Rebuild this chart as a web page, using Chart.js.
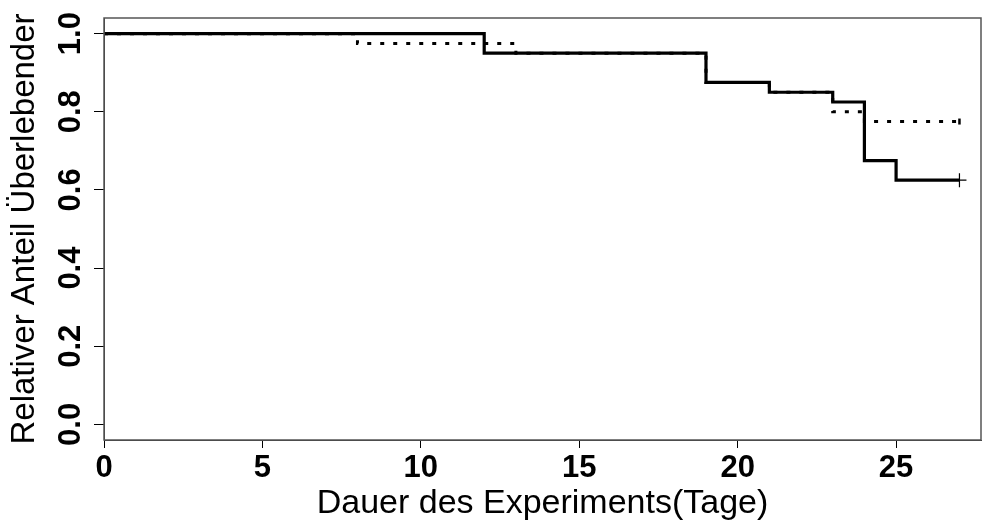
<!DOCTYPE html>
<html>
<head>
<meta charset="utf-8">
<script src="https://cdn.jsdelivr.net/npm/chart.js@4"></script>
<style>
  body { margin: 0; background: #fff; }
  canvas { display: block; }
</style>
</head>
<body>
<canvas id="survChart" width="983" height="528"></canvas>
<script>
// Kaplan-Meier Kurven (zwei Gruppen)
const timesA = [0, 12, 19, 21, 23, 24, 25, 27];
const survA = [1, 0.95, 0.875, 0.85, 0.825, 0.675, 0.625, 0.625];
const timesB = [0, 8, 13, 19, 21, 23, 24, 27];
const survB = [1, 0.975, 0.95, 0.875, 0.85, 0.8, 0.775, 0.775];
const censorA = [27];
const censorAsurv = [0.625];
const censorB = [27];
const censorBsurv = [0.775];

const xTicks = [0, 5, 10, 15, 20, 25];
const yTicks = [0, 0.2, 0.4, 0.6, 0.8, 1.0];
const yTickLabels = ['0.0', '0.2', '0.4', '0.6', '0.8', '1.0'];

const font = "'Liberation Sans', Arial, sans-serif";

function pts(xs, ys) {
  return xs.map((x, i) => ({ x: x, y: ys[i] }));
}

// Rahmen + y-Achsenbeschriftung (gedreht wie in R)
const boxPlugin = {
  id: 'boxPlugin',
  afterDraw(chart) {
    const { ctx, chartArea: a, scales } = chart;
    ctx.save();
    ctx.strokeStyle = '#555';
    ctx.lineWidth = 1.5;
    ctx.strokeRect(a.left, a.top, a.right - a.left, a.bottom - a.top);

    ctx.fillStyle = '#000';
    ctx.font = 'bold 31px ' + font;
    ctx.textAlign = 'center';
    ctx.textBaseline = 'middle';
    yTicks.forEach((v, i) => {
      const y = scales.y.getPixelForValue(v);
      ctx.save();
      ctx.translate(71, y);
      ctx.rotate(-Math.PI / 2);
      ctx.fillText(yTickLabels[i], 0, 0);
      ctx.restore();
    });
    ctx.restore();
  }
};

new Chart(document.getElementById('survChart'), {
  type: 'line',
  data: {
    datasets: [{
      label: 'A',
      data: pts(timesA, survA),
      borderColor: '#000',
      borderWidth: 3.2,
      stepped: true,
      pointRadius: 0,
      order: 0
    }, {
      label: 'B',
      data: pts(timesB, survB),
      borderColor: '#000',
      borderWidth: 3,
      borderDash: [4, 9],
      stepped: true,
      pointRadius: 0,
      order: 1
    }, {
      label: 'A zensiert',
      data: pts(censorA, censorAsurv),
      showLine: false,
      pointStyle: 'cross',
      pointRadius: 7,
      borderColor: '#000',
      borderWidth: 1.2,
      order: 0
    }, {
      label: 'B zensiert',
      data: pts(censorB, censorBsurv),
      showLine: false,
      pointStyle: 'line',
      rotation: 90,
      pointRadius: 3,
      borderColor: '#000',
      borderWidth: 2.5,
      order: 0
    }]
  },
  options: {
    responsive: false,
    animation: false,
    layout: { autoPadding: false, padding: { top: 18, right: 2, left: 0, bottom: 0 } },
    plugins: {
      legend: { display: false },
      tooltip: { enabled: false }
    },
    scales: {
      x: {
        type: 'linear',
        min: 0,
        max: 27.68,
        afterBuildTicks: s => { s.ticks = xTicks.map(v => ({ value: v })); },
        afterFit: s => { s.height = 88; },
        grid: { drawOnChartArea: false, drawTicks: true, tickLength: 8, color: '#000' },
        border: { display: true, color: '#333', width: 1 },
        ticks: {
          color: '#000',
          font: { family: font, size: 31, weight: 'bold' },
          padding: 2,
          maxRotation: 0,
          callback: v => String(v)
        },
        title: {
          display: true,
          text: 'Dauer des Experiments(Tage)',
          color: '#000',
          font: { family: font, size: 34 },
          padding: { top: 0, bottom: 4 }
        }
      },
      y: {
        type: 'linear',
        min: -0.04,
        max: 1.04,
        afterBuildTicks: s => { s.ticks = yTicks.map(v => ({ value: v })); },
        afterFit: s => { s.width = 104; },
        grid: { drawOnChartArea: false, drawTicks: true, tickLength: 10, color: '#000' },
        border: { display: true, color: '#333', width: 1 },
        ticks: { display: false },
        title: {
          display: true,
          text: 'Relativer Anteil Überlebender',
          color: '#000',
          font: { family: font, size: 33 },
          padding: { top: 5, bottom: 0 }
        }
      }
    }
  },
  plugins: [boxPlugin]
});
</script>
</body>
</html>
